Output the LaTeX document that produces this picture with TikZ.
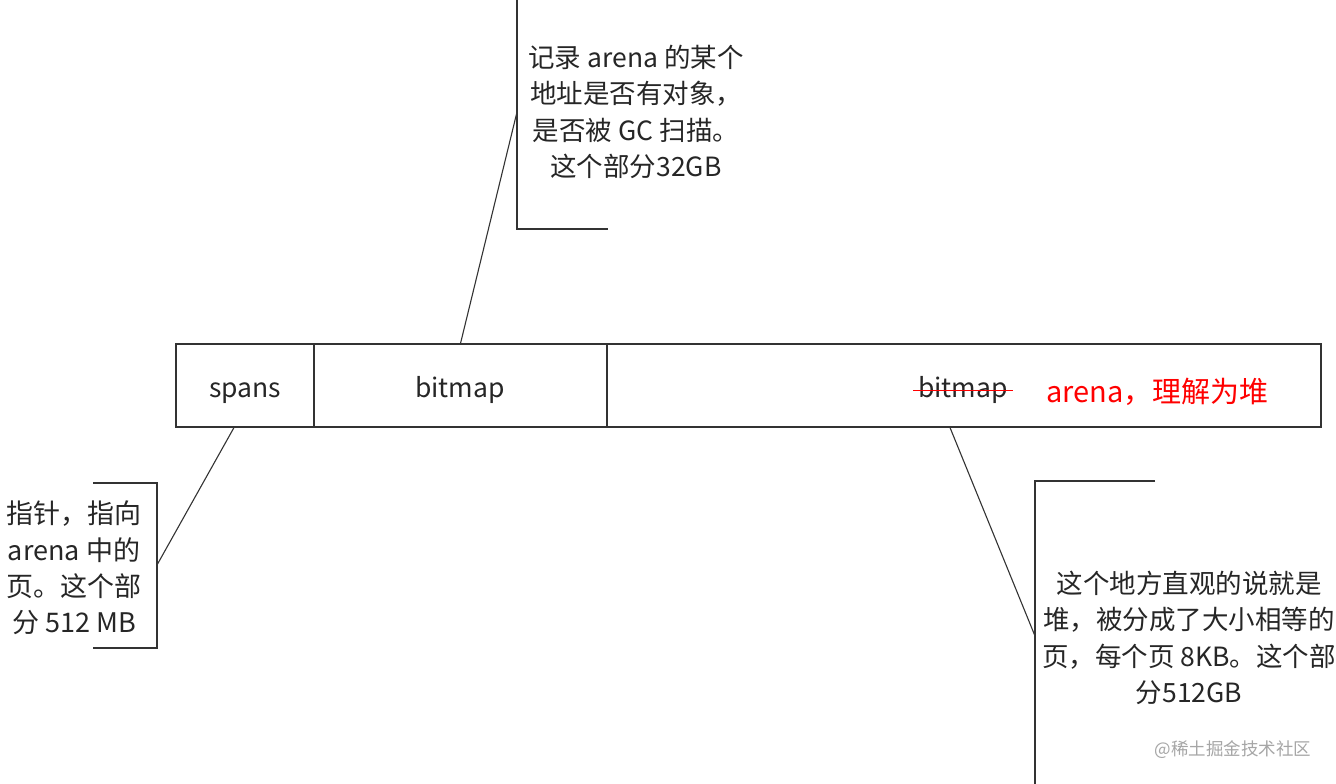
\documentclass[tikz,border=0pt]{standalone}
\usepackage{fontspec}
\setmainfont{Noto Sans CJK SC}
\usepackage{tikz}
\usetikzlibrary{positioning,calc}

\begin{document}
\begin{tikzpicture}[x=1pt,y=-1pt,
  cell/.style={draw=black!80, line width=1.1pt, minimum height=83pt, inner sep=0pt},
  celltext/.style={inner sep=0pt, anchor=base, font=\fontsize{26.5}{30}\selectfont, text=black!85},
  note/.style={align=center, inner sep=0pt, font=\fontsize{26.5}{36.3}\selectfont, text=black!85},
  leader/.style={draw=black!80, line width=1.1pt},
]
  \fill[white] (0,0) rectangle (1336,784);
  \useasboundingbox (0,0) rectangle (1336,784);

  % arena layout
  \node[cell, minimum width=138pt] (spans) at (245,385.5) {};
  \node[cell, minimum width=293pt] (bitmap) at (460.5,385.5) {};
  \node[cell, minimum width=714pt] (heap) at (964,385.5) {};
  \node[celltext] (spanstxt) at (245,397.5) {spans};
  \node[celltext] (bitmaptxt) at (460,397.5) {bitmap};
  \node[celltext] (old) at (963,397.5) {bitmap};
  \draw[red, line width=1pt] ([xshift=-5pt]old.west |- 0,390) -- ([xshift=5pt]old.east |- 0,390);
  \node[celltext, anchor=base west, text=red, font=\fontsize{29}{30}\selectfont] (label) at (1046,402) {arena，理解为堆};

  % top note
  \node[note] (topnote) at (636,112) {记录 arena 的某个\\地址是否有对象，\\是否被 GC 扫描。\\这个部分32GB};
  \coordinate (t1) at (517,0);
  \coordinate (t2) at (517,229);
  \coordinate (t3) at (608,229);
  \coordinate (tj) at (517,112);
  \draw[leader] (t1) -- (t2) -- (t3);
  \draw[leader] (bitmap.north) -- (tj);

  % left note
  \node[note, font=\fontsize{27}{36.3}\selectfont] (leftnote) at (74,568) {指针，指向\\arena 中的\\页。这个部\\分 512 MB};
  \coordinate (l1) at (93,483);
  \coordinate (l2) at (157,483);
  \coordinate (l3) at (157,648);
  \coordinate (l4) at (93,648);
  \coordinate (lj) at (157,565);
  \draw[leader] (l1) -- (l2) -- (l3) -- (l4);
  \draw[leader] ([xshift=-11pt]spans.south) -- (lj);

  % right note
  \node[note] (rightnote) at (1189,638) {这个地方直观的说就是\\堆，被分成了大小相等的\\页，每个页 8KB。这个部\\分512GB};
  \coordinate (r1) at (1155,481);
  \coordinate (r2) at (1035,481);
  \coordinate (r3) at (1035,784);
  \coordinate (rj) at (1035,636);
  \draw[leader] (r1) -- (r2) -- (r3);
  \draw[leader] ([xshift=-14pt]heap.south) -- (rj);

  \node[note, text=black!35, font=\fontsize{17.5}{20}\selectfont] (mark) at (1233,750) {@稀土掘金技术社区};
\end{tikzpicture}
\end{document}
